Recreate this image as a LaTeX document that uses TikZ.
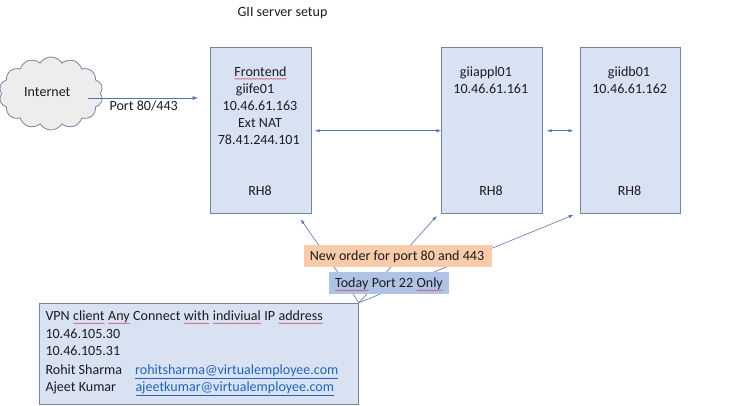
\documentclass[tikz,border=0pt]{standalone}
\usepackage{fontspec}
\setmainfont{Carlito}
\usetikzlibrary{arrows,shapes.symbols,decorations.pathmorphing}

\definecolor{boxfill}{HTML}{D9E2F3}
\definecolor{boxline}{HTML}{76859F}
\definecolor{linkline}{HTML}{5874AE}
\definecolor{orderfill}{HTML}{F9CBA9}
\definecolor{todayfill}{HTML}{AFC3E5}
\definecolor{mailblue}{HTML}{1F66B8}
\definecolor{inktext}{HTML}{1B1B22}
\definecolor{squigred}{HTML}{CF4A66}

\newcommand{\squig}[1]{\tikz[baseline=(w.base)]{\node[inner sep=0pt,outer sep=0pt] (w) {#1};
  \draw[squigred,line width=.45pt,decorate,decoration={snake,amplitude=.5pt,segment length=2.4pt}] ([yshift=-2.6pt]w.base west) -- ([yshift=-2.6pt]w.base east);}}
\newcommand{\mail}[1]{\textcolor{mailblue}{\underline{#1}}}

\begin{document}
\begin{tikzpicture}[x=1pt,y=-1pt,
  txt/.style={anchor=base,inner sep=0pt,yshift=-.8pt,text=inktext,font=\fontsize{14.05}{16}\selectfont},
  txtl/.style={txt,anchor=base west},
  server/.style={draw=boxline,fill=boxfill,line width=1pt,anchor=north west,minimum width=100.5pt,minimum height=166.5pt,inner sep=0pt},
  link/.style={draw=linkline,line width=.6pt,-latex},
  tag/.style={anchor=north west,inner sep=0pt}]

\useasboundingbox (0,0) rectangle (752,406);

\node[txt] (title) at (282.5,16) {GII server setup};

\node[cloud,cloud puffs=14,cloud puff arc=115,aspect=1.45,draw=boxline,fill=black!7,line width=.8pt,minimum width=104pt,minimum height=73pt,inner sep=0pt] (cloud) at (51,93.5) {};
\node[txt] (internet) at (47.3,96) {Internet};

\node[server] (giife) at (210,47) {};
\node[server] (giiappl) at (441,47) {};
\node[server] (giidb) at (579.7,47) {};
\node[server,minimum width=318.7pt,minimum height=101.3pt] (vpn) at (39.3,302.7) {};

\coordinate (portstart) at (88,98);
\coordinate (portend) at (198,98);
\coordinate (tofe) at (300.7,219.3);
\coordinate (toappl) at (436.7,216);
\coordinate (todb) at (573.3,215);

\draw[link,line width=.9pt] (portstart) -- (portend);
\draw[link,latex-latex,shorten <=3.5pt] (giife) -- (giiappl);
\draw[link,latex-latex,shorten <=4.5pt,shorten >=6.5pt] (giiappl) -- (giidb);
\draw[link] (vpn.north east) -- (tofe);
\draw[link] (vpn.north east) -- (toappl);
\draw[link] (vpn.north east) -- (todb);

\node[tag,fill=orderfill,minimum width=188pt,minimum height=22.7pt] (order) at (303.3,244.3) {};
\node[txt] (ordertxt) at (397,260) {New order for port 80 and 443};
\node[tag,fill=todayfill,minimum width=120pt,minimum height=22pt] (today) at (329,271.3) {};
\node[txt] (todaytxt) at (389,287) {\squig{Today} Port 22 \squig{Only}};

\node[txt] (port) at (143.7,110) {Port 80/443};

\node[txt] (fe1) at (260.5,75.5) {\squig{Frontend}};
\node[txt] (fe2) at (255,92.5) {giife01};
\node[txt] (fe3) at (260,110) {10.46.61.163};
\node[txt] (fe4) at (260,127) {Ext NAT};
\node[txt] (fe5) at (258.7,144) {78.41.244.101};
\node[txt] (fe6) at (260,194.5) {RH8};

\node[txt] (appl1) at (486,75.5) {giiappl01};
\node[txt] (appl2) at (490.8,92.5) {10.46.61.161};
\node[txt] (appl3) at (491,194.5) {RH8};

\node[txt] (db1) at (629,75.5) {giidb01};
\node[txt] (db2) at (629.7,92.5) {10.46.61.162};
\node[txt] (db3) at (629.5,194.5) {RH8};

\node[txtl] (vpn1) at (45.3,320) {VPN \squig{client} \squig{Any} Connect \squig{with} \squig{indiviual} IP \squig{address}};
\node[txtl] (vpn2) at (45.3,337.5) {10.46.105.30};
\node[txtl] (vpn3) at (45.3,355) {10.46.105.31};
\node[txtl] (vpn4) at (45.3,374) {Rohit Sharma};
\node[txtl] (vpn5) at (45.3,391) {Ajeet Kumar};
\node[txtl] (mail1) at (135,374) {\mail{rohitsharma@virtualemployee.com}};
\node[txtl] (mail2) at (135.3,391) {\mail{ajeetkumar@virtualemployee.com}};

\end{tikzpicture}
\end{document}
